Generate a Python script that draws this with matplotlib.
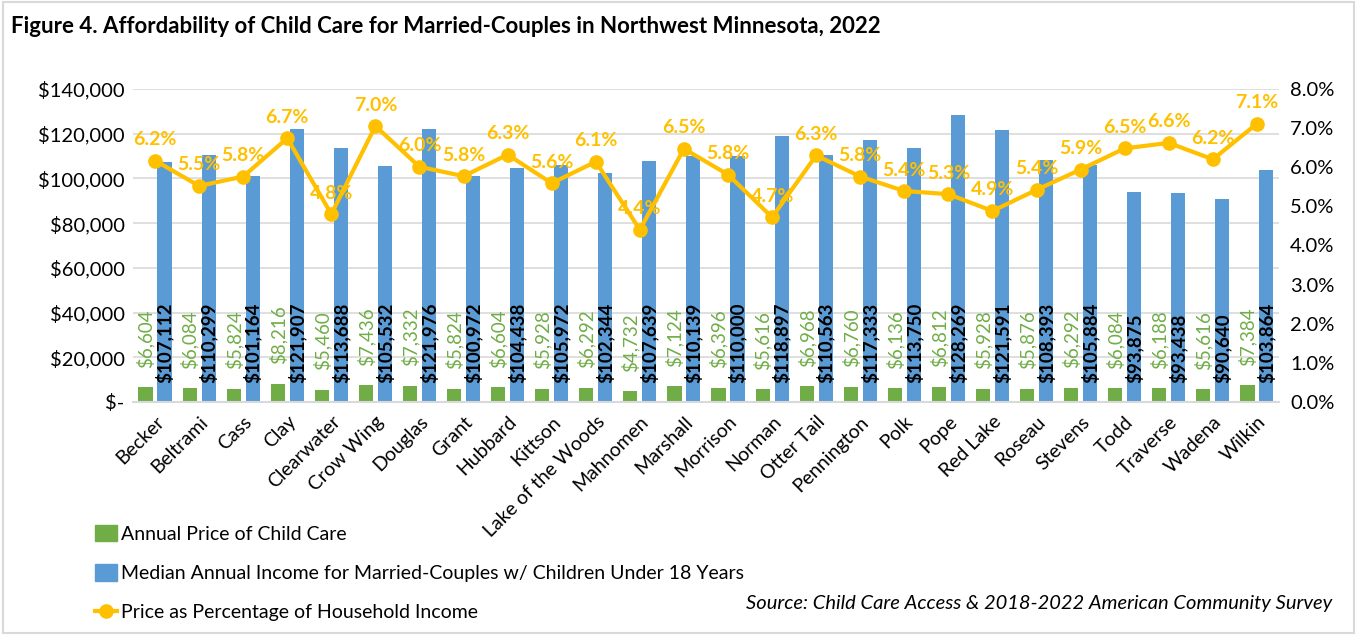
import matplotlib.pyplot as plt
import numpy as np
from matplotlib.patches import Rectangle
from matplotlib.lines import Line2D
from matplotlib.ticker import FuncFormatter

plt.rcParams['font.family'] = ['Lato', 'DejaVu Sans']

counties = ["Becker", "Beltrami", "Cass", "Clay", "Clearwater", "Crow Wing", "Douglas",
            "Grant", "Hubbard", "Kittson", "Lake of the Woods", "Mahnomen", "Marshall",
            "Morrison", "Norman", "Otter Tail", "Pennington", "Polk", "Pope", "Red Lake",
            "Roseau", "Stevens", "Todd", "Traverse", "Wadena", "Wilkin"]
care_price = [6604, 6084, 5824, 8216, 5460, 7436, 7332, 5824, 6604, 5928, 6292, 4732, 7124,
              6396, 5616, 6968, 6760, 6136, 6812, 5928, 5876, 6292, 6084, 6188, 5616, 7384]
income = [107112, 110299, 101164, 121907, 113688, 105532, 121976, 100972, 104438, 105972,
          102344, 107639, 110139, 110000, 118897, 110563, 117333, 113750, 128269, 121591,
          108393, 105884, 93875, 93438, 90640, 103864]
pct = [6.17, 5.52, 5.76, 6.74, 4.80, 7.05, 6.01, 5.77, 6.32, 5.59, 6.14, 4.40, 6.47,
       5.81, 4.72, 6.30, 5.76, 5.39, 5.31, 4.88, 5.42, 5.94, 6.48, 6.62, 6.20, 7.11]

GREEN = "#70AD47"
BLUE = "#5B9BD5"
GOLD = "#FFC000"
GRID = "#D9D9D9"

fig = plt.figure(figsize=(13.57, 6.35), dpi=100)
ax = fig.add_axes([0.098, 0.367, 0.8445, 0.493])
ax2 = ax.twinx()

x = np.arange(len(counties))
w = 0.32
off = 0.215
ax.bar(x - off, care_price, w, color=GREEN, zorder=2)
ax.bar(x + off, income, w, color=BLUE, zorder=2)

for xi, v in zip(x, care_price):
    ax.annotate(f"${v:,}", (xi - off, v), xytext=(0, 14), textcoords="offset points",
                rotation=90, ha="center", va="bottom", fontsize=13.5, color=GREEN)
for xi, v in zip(x, income):
    ax.annotate(f"${v:,}", (xi + off, 0), xytext=(0, 13.5), textcoords="offset points",
                rotation=90, ha="center", va="bottom", fontsize=13.5, color="black",
                fontweight="bold")

ax2.plot(x, np.array(pct) / 100, color=GOLD, lw=3, marker="o", ms=9.5, zorder=3)
for xi, p in zip(x, pct):
    ax2.annotate(f"{p:.1f}%", (xi, p / 100), xytext=(0, 9), textcoords="offset points",
                 ha="center", va="bottom", fontsize=14, color=GOLD, fontweight="bold")

ax.set_xlim(-0.5, len(counties) - 0.5)
ax.set_ylim(0, 140000)
ax2.set_ylim(0, 0.08)
ax.set_yticks(np.arange(0, 140001, 20000))
ax2.set_yticks(np.arange(0, 0.0801, 0.01))
ax.yaxis.set_major_formatter(FuncFormatter(lambda v, _: "$-" if v == 0 else f"${v:,.0f}"))
ax2.yaxis.set_major_formatter(FuncFormatter(lambda v, _: f"{v * 100:.1f}%"))
ax.grid(axis="y", color=GRID, lw=1.2, zorder=0)
ax.set_axisbelow(True)

ax.set_xticks(x)
ax.set_xticklabels(counties, rotation=45, ha="right", rotation_mode="anchor", fontsize=14)
ax.tick_params(axis="both", length=0, labelsize=14.5)
ax.tick_params(axis="x", pad=8, labelsize=14)
ax2.tick_params(axis="y", length=0, labelsize=14.5, pad=8)
ax.tick_params(axis="y", pad=6)

for a in (ax, ax2):
    for s in ("top", "left", "right", "bottom"):
        a.spines[s].set_visible(False)
ax.spines["bottom"].set_visible(True)
ax.spines["bottom"].set_color(GRID)
ax.spines["bottom"].set_linewidth(1.5)

fig.text(0.008, 0.958, "Figure 4. Affordability of Child Care for Married-Couples in Northwest Minnesota, 2022",
         fontsize=16, fontweight="bold", va="center", ha="left")

handles = [
    Rectangle((0, 0), 1, 1, color=GREEN),
    Rectangle((0, 0), 1, 1, color=BLUE),
    Line2D([0], [0], color=GOLD, lw=3, marker="o", ms=9.5),
]
labels = ["Annual Price of Child Care",
          "Median Annual Income for Married-Couples w/ Children Under 18 Years",
          "Price as Percentage of Household Income"]
fig.legend(handles, labels, loc="upper left", bbox_to_anchor=(0.064, 0.185),
           frameon=False, fontsize=14, handlelength=1.15, handleheight=0.9,
           handletextpad=0.2, labelspacing=1.1, borderaxespad=0)

fig.text(0.982, 0.05, "Source: Child Care Access & 2018-2022 American Community Survey",
         fontsize=14.5, style="italic", ha="right", va="center")

fig.patches.append(Rectangle((0.002, 0.003), 0.996, 0.994, transform=fig.transFigure,
                             fill=False, edgecolor=GRID, lw=1.5))

fig.savefig("out.png", dpi=100)
